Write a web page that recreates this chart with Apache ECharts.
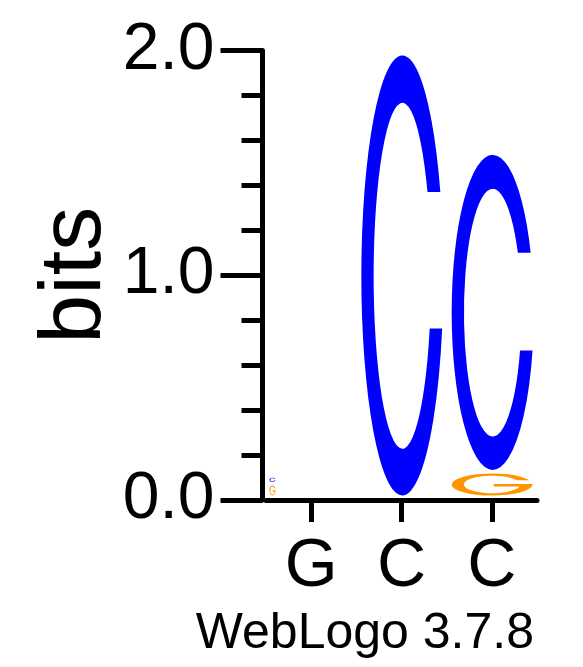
<!DOCTYPE html>
<html>
<head>
<meta charset="utf-8">
<script src="https://cdn.jsdelivr.net/npm/echarts@6/dist/echarts.min.js"></script>
<style>
html,body{margin:0;padding:0;background:#fff;}
#chart{width:583px;height:667px;}
</style>
</head>
<body>
<div id="chart"></div>
<script>
// ---- data (bits per letter, stacked bottom -> top) ----
const categories = ['G', 'C', 'C'];
const pos1Letters = ['G', 'C'];
const pos1Bits = [0.045, 0.018];
const pos2Letters = ['C'];
const pos2Bits = [1.958];
const pos3Letters = ['G', 'C'];
const pos3Bits = [0.098, 1.402];
const yTickLabels = ['0.0', '1.0', '2.0'];
const footerText = 'WebLogo 3.7.8';

const letterColors = { A: '#00A000', C: '#0000FF', G: '#FF9500', T: '#FF0000' };
const glyphPaths = {
  C: 'M96.25 31 A50 50 0 1 0 98.5 62 L83.3 62 A35 39.3 0 1 1 80.6 31 Z',
  G: 'M96.25 31 A50 50 0 1 0 99.6 56 L100 48 L52 48 L52 59.3 L84 59.3 A35 39.3 0 1 1 80.6 31 Z'
};

const positions = [
  { letters: pos1Letters, bits: pos1Bits },
  { letters: pos2Letters, bits: pos2Bits },
  { letters: pos3Letters, bits: pos3Bits }
];

const letterData = [];
positions.forEach((p, i) => {
  let cum = 0;
  const total = p.bits.reduce((a, b) => a + b, 0);
  p.letters.forEach((L, j) => {
    letterData.push({ value: [i, cum, p.bits[j], j, total], letter: L });
    cum += p.bits[j];
  });
});

const chart = echarts.init(document.getElementById('chart'), null, { renderer: 'canvas' });

const option = {
  animation: false,
  backgroundColor: '#ffffff',
  grid: { left: 266, right: 46, top: 50.5, bottom: 167, containLabel: false, outerBoundsMode: 'none' },
  xAxis: {
    type: 'category',
    data: categories,
    boundaryGap: true,
    axisLine: { show: true, lineStyle: { color: '#000', width: 5 } },
    axisTick: { show: true, alignWithLabel: true, length: 22, lineStyle: { color: '#000', width: 5 } },
    axisLabel: { color: '#000', fontFamily: 'Liberation Sans', fontSize: 68, margin: 33 },
    splitLine: { show: false }
  },
  yAxis: {
    type: 'value',
    min: 0, max: 2, interval: 1,
    offset: 3.5,
    name: 'bits',
    nameLocation: 'middle',
    nameGap: 143,
    nameMoveOverlap: false,
    nameTextStyle: { color: '#000', fontFamily: 'Liberation Sans', fontSize: 88 },
    axisLine: { show: true, lineStyle: { color: '#000', width: 5 } },
    axisTick: { show: true, length: 42, lineStyle: { color: '#000', width: 5 } },
    minorTick: { show: true, splitNumber: 5, length: 21, lineStyle: { color: '#000', width: 5 } },
    axisLabel: {
      color: '#000', fontFamily: 'Liberation Sans', fontSize: 66, margin: 48,
      padding: [10, 0, 0, 0],
      formatter: v => yTickLabels[Math.round(v)]
    },
    splitLine: { show: false },
    minorSplitLine: { show: false }
  },
  graphic: [{
    type: 'text',
    right: 49,
    top: 609,
    style: { text: footerText, fill: '#000', font: '50px "Liberation Sans"' }
  }],
  series: [{
    type: 'custom',
    coordinateSystem: 'cartesian2d',
    data: letterData,
    renderItem: function (params, api) {
      const i = api.value(0), b0 = api.value(1), h = api.value(2), idx = api.value(3), total = api.value(4);
      const item = letterData[params.dataIndex];
      const zero = api.coord([i, 0]);
      const pxPerBit = api.size([0, 1])[1];
      const colW = api.size([1, 0])[0];
      const colLeft = zero[0] - colW / 2;
      const gap = 3.5;
      const bottom = zero[1] - 4.5 - b0 * pxPerBit - idx * gap;
      const hpx = h * pxPerBit;
      let w, x;
      if (total < 0.08) { w = 6; x = colLeft + 3.5; }
      else { w = colW * 0.895; x = colLeft + 5; }
      return {
        type: 'path',
        shape: { pathData: glyphPaths[item.letter], x: x, y: bottom - hpx, width: w, height: hpx, layout: 'cover' },
        style: { fill: letterColors[item.letter], stroke: null }
      };
    }
  }]
};
chart.setOption(option);
</script>
</body>
</html>
